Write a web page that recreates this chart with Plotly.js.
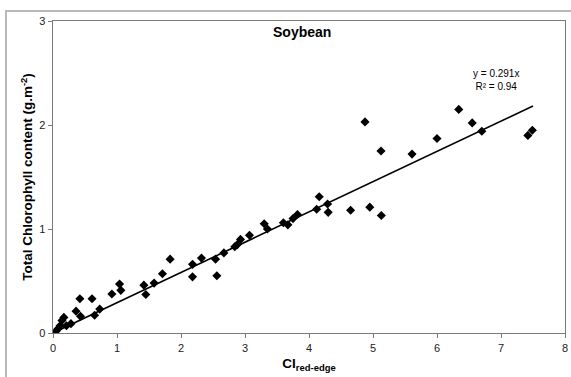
<!DOCTYPE html>
<html>
<head>
<meta charset="utf-8">
<script src="https://cdn.plot.ly/plotly-3.0.1.min.js"></script>
<style>html,body{margin:0;padding:0;background:#fff;overflow:hidden}</style>
</head>
<body>
<div id="chart" style="width:571px;height:377px"></div>
<script>
const ciRedEdge = [0.05,0.08,0.11,0.14,0.17,0.21,0.28,0.36,0.42,0.43,0.61,0.65,0.73,0.92,1.04,1.06,1.42,1.45,1.58,1.71,1.83,2.18,2.18,2.32,2.54,2.56,2.67,2.84,2.88,2.93,3.07,3.30,3.35,3.60,3.67,3.75,3.82,4.12,4.16,4.29,4.30,4.65,4.875,4.95,5.125,5.13,5.61,6.00,6.34,6.55,6.70,7.42,7.49];
const chlorophyll = [0.02,0.04,0.07,0.12,0.15,0.07,0.09,0.21,0.33,0.16,0.33,0.17,0.23,0.375,0.47,0.41,0.46,0.37,0.48,0.57,0.71,0.66,0.54,0.72,0.71,0.55,0.77,0.83,0.85,0.90,0.94,1.05,1.00,1.06,1.04,1.10,1.14,1.19,1.31,1.24,1.16,1.18,2.03,1.21,1.75,1.13,1.72,1.87,2.15,2.02,1.94,1.90,1.95];
const slope = 0.291;
const fitX = [0, 7.5];
const fitY = fitX.map(v => slope * v);
const xTicks = [0,1,2,3,4,5,6,7,8];
const yTicks = [0,1,2,3];

const font = 'Liberation Sans, Arial, sans-serif';
const traces = [
  {x: fitX, y: fitY, mode: 'lines', line: {color: '#000', width: 1.6}, hoverinfo: 'skip', showlegend: false},
  {x: ciRedEdge, y: chlorophyll, mode: 'markers', type: 'scatter',
   marker: {symbol: 'diamond', size: 7, color: '#000'}, showlegend: false}
];
const axisCommon = {
  showgrid: false, zeroline: false, showline: true, mirror: true,
  linecolor: '#7a7a7a', linewidth: 1.4, ticks: 'outside', ticklen: 4, tickcolor: '#7a7a7a',
  tickfont: {family: font, size: 11, color: '#222'}
};
const layout = {
  width: 571, height: 377,
  margin: {l: 53, r: 6, t: 21, b: 44},
  paper_bgcolor: '#fff', plot_bgcolor: '#fff',
  font: {family: font},
  xaxis: Object.assign({}, axisCommon, {
    range: [0, 8], tickvals: xTicks, ticktext: xTicks.map(String),
    title: {text: '<b>CI<sub>red-edge</sub></b>', font: {family: font, size: 13.5, color: '#000'}, standoff: 6}
  }),
  yaxis: Object.assign({}, axisCommon, {
    range: [0, 3], tickvals: yTicks, ticktext: yTicks.map(String),
    title: {text: '<b>Total Chlorophyll content (g.m<sup>-2</sup>)</b>', font: {family: font, size: 13.5, color: '#000'}, standoff: 3}
  }),
  annotations: [
    {text: '<b>Soybean</b>', xref: 'paper', yref: 'paper', x: 0.486, y: 0.965, xanchor: 'center', yanchor: 'middle', showarrow: false,
     font: {family: font, size: 14, color: '#000'}},
    {text: 'y = 0.291x<br>R² = 0.94', xref: 'paper', yref: 'paper', x: 0.865, y: 0.8125, xanchor: 'center', yanchor: 'middle', showarrow: false,
     font: {family: font, size: 10, color: '#000'}, align: 'center'}
  ],
  shapes: [
    {type: 'rect', xref: 'paper', yref: 'paper', x0: -0.0918, x1: 1.3, y0: 1.032, y1: -0.5,
     line: {color: '#b8b8b8', width: 2}, layer: 'below'}
  ]
};
Plotly.newPlot('chart', traces, layout, {staticPlot: true, displayModeBar: false});
</script>
</body>
</html>
